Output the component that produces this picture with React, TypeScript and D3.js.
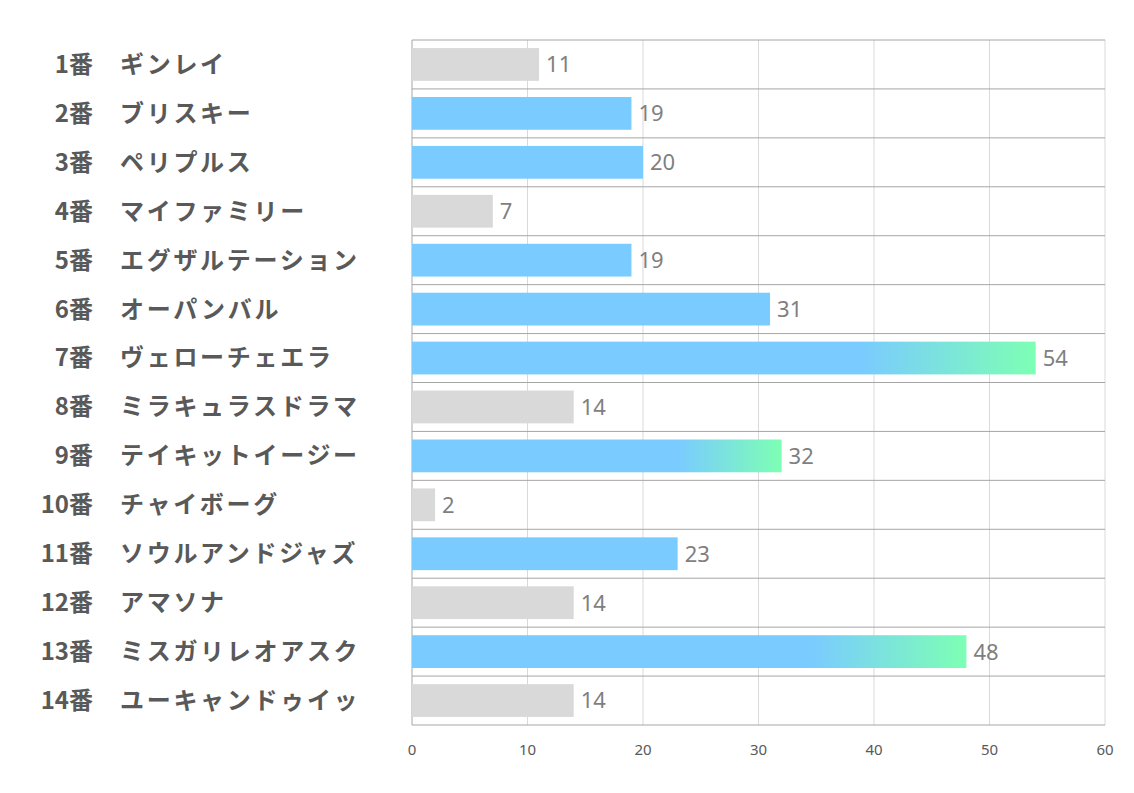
import React, { useEffect, useRef } from "react";
import * as d3 from "d3";

const numbers = ["1番", "2番", "3番", "4番", "5番", "6番", "7番", "8番", "9番", "10番", "11番", "12番", "13番", "14番"];
const names = [
  "ギンレイ",
  "ブリスキー",
  "ペリプルス",
  "マイファミリー",
  "エグザルテーション",
  "オーパンバル",
  "ヴェローチェエラ",
  "ミラキュラスドラマ",
  "テイキットイージー",
  "チャイボーグ",
  "ソウルアンドジャズ",
  "アマソナ",
  "ミスガリレオアスク",
  "ユーキャンドゥイッ",
];
const values = [11, 19, 20, 7, 19, 31, 54, 14, 32, 2, 23, 14, 48, 14];
// 0 = gray, 1 = blue, 2 = blue with green fade
const kind = [0, 1, 1, 0, 1, 1, 2, 0, 2, 0, 1, 0, 2, 0];
const xTicks = [0, 10, 20, 30, 40, 50, 60];

export default function App() {
  const ref = useRef<SVGSVGElement>(null);

  useEffect(() => {
    const width = 1134;
    const height = 793;
    const left = 412;
    const right = 1105;
    const top = 40;
    const bottom = 725;

    const svg = d3.select(ref.current);
    svg.selectAll("*").remove();

    const x = d3.scaleLinear().domain([0, 60]).range([left, right]);
    const y = d3
      .scaleBand()
      .domain(d3.range(values.length).map(String))
      .range([top, bottom])
      .paddingInner(0.33)
      .paddingOuter(0.165);
    const step = (bottom - top) / values.length;

    const defs = svg.append("defs");
    const grad = defs
      .append("linearGradient")
      .attr("id", "fade")
      .attr("x1", "0%")
      .attr("x2", "100%")
      .attr("y1", "0%")
      .attr("y2", "0%");
    grad.append("stop").attr("offset", "0.72").attr("stop-color", "#7acbff");
    grad.append("stop").attr("offset", "1").attr("stop-color", "#7dffb4");

    // vertical grid
    svg
      .append("g")
      .selectAll("line")
      .data(xTicks)
      .enter()
      .append("line")
      .attr("x1", (d) => x(d))
      .attr("x2", (d) => x(d))
      .attr("y1", top)
      .attr("y2", bottom)
      .attr("stroke", (d) => (d === 0 ? "#a6a6a6" : "#d9d9d9"))
      .attr("stroke-width", 1);

    // row separators
    svg
      .append("g")
      .selectAll("line")
      .data(d3.range(values.length + 1))
      .enter()
      .append("line")
      .attr("x1", left)
      .attr("x2", right)
      .attr("y1", (d) => top + d * step)
      .attr("y2", (d) => top + d * step)
      .attr("stroke", "#a6a6a6")
      .attr("stroke-width", 1);

    // bars
    svg
      .append("g")
      .selectAll("rect")
      .data(values)
      .enter()
      .append("rect")
      .attr("x", x(0))
      .attr("y", (d, i) => y(String(i))!)
      .attr("width", (d) => x(d) - x(0))
      .attr("height", y.bandwidth())
      .attr("fill", (d, i) => (kind[i] === 0 ? "#d9d9d9" : kind[i] === 1 ? "#7acbff" : "url(#fade)"));

    // value labels
    svg
      .append("g")
      .selectAll("text")
      .data(values)
      .enter()
      .append("text")
      .attr("x", (d) => x(d) + 7)
      .attr("y", (d, i) => y(String(i))! + y.bandwidth() / 2)
      .attr("dy", "0.36em")
      .attr("font-family", "'Noto Sans', sans-serif")
      .attr("font-size", 22)
      .attr("fill", "#7f7f7f")
      .text((d) => d);

    // row labels
    const labels = svg
      .append("g")
      .attr("font-family", "'Noto Sans CJK JP', sans-serif")
      .attr("font-weight", "bold")
      .attr("font-size", 24)
      .attr("fill", "#595959");
    labels
      .selectAll("text.num")
      .data(numbers)
      .enter()
      .append("text")
      .attr("class", "num")
      .attr("x", 93)
      .attr("y", (d, i) => top + (i + 0.5) * step)
      .attr("dy", "0.35em")
      .attr("text-anchor", "end")
      .text((d) => d);
    labels
      .selectAll("text.name")
      .data(names)
      .enter()
      .append("text")
      .attr("class", "name")
      .attr("x", 120)
      .attr("y", (d, i) => top + (i + 0.5) * step)
      .attr("dy", "0.35em")
      .attr("letter-spacing", 2.7)
      .text((d) => d);

    // x axis tick labels
    svg
      .append("g")
      .selectAll("text")
      .data(xTicks)
      .enter()
      .append("text")
      .attr("x", (d) => x(d))
      .attr("y", bottom + 25)
      .attr("dy", "0.35em")
      .attr("text-anchor", "middle")
      .attr("font-family", "'Noto Sans', sans-serif")
      .attr("font-size", 15)
      .attr("fill", "#595959")
      .text((d) => d);

    svg.attr("width", width).attr("height", height);
  }, []);

  return (
    <div style={{ margin: -8, background: "#fff", width: 1134, height: 793 }}>
      <svg ref={ref} width={1134} height={793} style={{ display: "block" }} />
    </div>
  );
}
